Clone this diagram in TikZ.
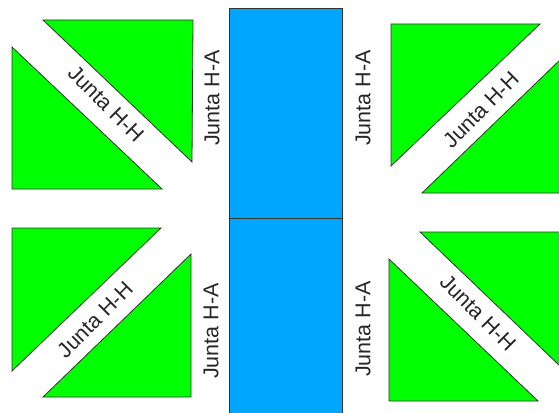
\documentclass[tikz,border=0pt]{standalone}
\usepackage{fontspec}
\setmainfont{Liberation Sans}
\definecolor{tgreen}{RGB}{0,255,0}
\definecolor{tblue}{RGB}{0,166,255}
\begin{document}
\begin{tikzpicture}[x=1pt,y=-1pt,
  tri/.style={fill=tgreen,draw=black!80,line width=0.8pt,line join=miter},
  bar/.style={fill=tblue,draw=black!80,line width=0.8pt},
  lbl/.style={font=\fontsize{21.5}{24}\selectfont,text=black!85,inner sep=0pt}]
\useasboundingbox (0,0) rectangle (559,412);
\clip (0,0) rectangle (559,412);
% central blue bars
\draw[bar] (229,8) rectangle (342,218);
\draw[bar] (229,218) rectangle (342,414);
% top-left
\draw[tri] (43,20) -- (193,20) -- (192,162) -- cycle;
\draw[tri] (12,47) -- (12,189) -- (162,189) -- cycle;
% top-right
\draw[tri] (391,24) -- (540,24) -- (391,166) -- cycle;
\draw[tri] (422,193) -- (562,193) -- (562,58) -- cycle;
% bottom-left
\draw[tri] (12,228) -- (161,228) -- (12,371) -- cycle;
\draw[tri] (191,254) -- (191,397) -- (43,397) -- cycle;
% bottom-right
\draw[tri] (420,232) -- (562,232) -- (562,368) -- cycle;
\draw[tri] (389,259) -- (389,401) -- (538,401) -- cycle;
% labels
\node[lbl,rotate=90] (ha1) at (212,98) {Junta H-A};
\node[lbl,rotate=90] (ha2) at (363,98) {Junta H-A};
\node[lbl,rotate=90] (ha3) at (211,331) {Junta H-A};
\node[lbl,rotate=90] (ha4) at (363,329) {Junta H-A};
\node[lbl,rotate=-45] (hh1) at (106,104) {Junta H-H};
\node[lbl,rotate=45] (hh2) at (481,110) {Junta H-H};
\node[lbl,rotate=45] (hh3) at (95,320) {Junta H-H};
\node[lbl,rotate=-45] (hh4) at (478,313) {Junta H-H};
\end{tikzpicture}
\end{document}
